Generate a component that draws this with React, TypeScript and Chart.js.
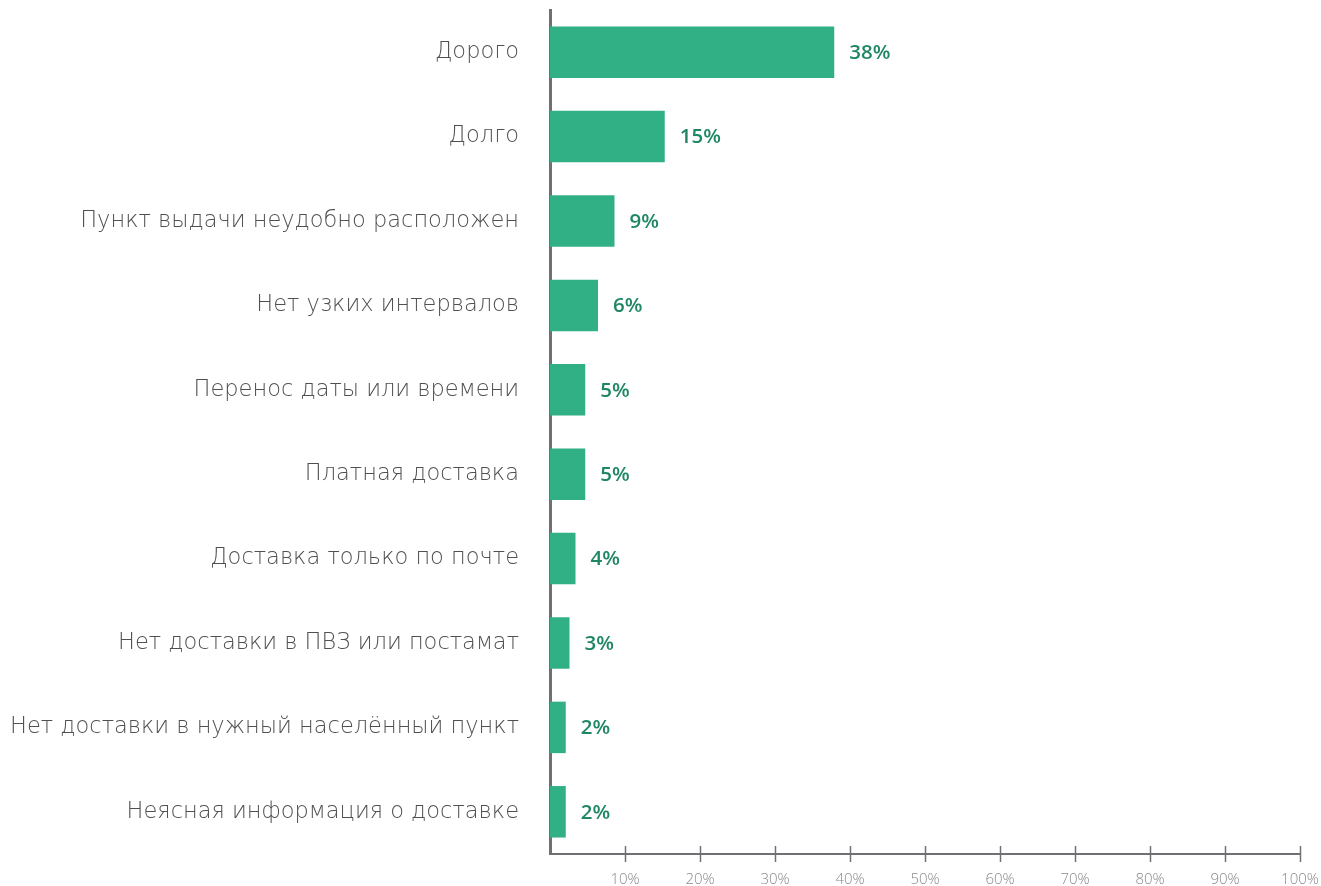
import React, { useEffect, useRef } from "react";
import { Chart, registerables } from "chart.js";

Chart.register(...registerables);

const categories = [
  "Дорого",
  "Долго",
  "Пункт выдачи неудобно расположен",
  "Нет узких интервалов",
  "Перенос даты или времени",
  "Платная доставка",
  "Доставка только по почте",
  "Нет доставки в ПВЗ или постамат",
  "Нет доставки в нужный населённый пункт",
  "Неясная информация о доставке",
];
const values = [37.9, 15.3, 8.6, 6.4, 4.7, 4.7, 3.4, 2.6, 2.1, 2.1];
const valueLabels = ["38%", "15%", "9%", "6%", "5%", "5%", "4%", "3%", "2%", "2%"];
const tickValues = [10, 20, 30, 40, 50, 60, 70, 80, 90, 100];

const BAR_COLOR = "#32b085";
const LABEL_COLOR = "#1f8763";
const AXIS_COLOR = "#707074";

const valueLabelPlugin = {
  id: "valueLabels",
  afterDatasetsDraw(chart: any) {
    const ctx = chart.ctx;
    const meta = chart.getDatasetMeta(0);
    ctx.save();
    ctx.fillStyle = LABEL_COLOR;
    ctx.font = "600 20.5px 'Open Sans'";
    ctx.textAlign = "left";
    ctx.textBaseline = "middle";
    meta.data.forEach((bar: any, i: number) => {
      ctx.fillText(valueLabels[i], bar.x + 15, bar.y + 1);
    });
    ctx.restore();
  },
};

const crossTickPlugin = {
  id: "crossTicks",
  afterDraw(chart: any) {
    const ctx = chart.ctx;
    const xs = chart.scales.x;
    const y = chart.chartArea.bottom;
    ctx.save();
    ctx.strokeStyle = AXIS_COLOR;
    ctx.lineWidth = 1.5;
    tickValues.forEach((v) => {
      const x = Math.round(xs.getPixelForValue(v)) + 0.5;
      ctx.beginPath();
      ctx.moveTo(x, y - 8);
      ctx.lineTo(x, y + 8);
      ctx.stroke();
    });
    ctx.restore();
  },
};

function zeroPad(scale: any) {
  scale.paddingTop = 0;
  scale.paddingBottom = 0;
  scale.paddingLeft = 0;
  scale.paddingRight = 0;
}

export default function App() {
  const ref = useRef<HTMLCanvasElement | null>(null);
  useEffect(() => {
    document.body.style.margin = "0";
    const chart = new Chart(ref.current as HTMLCanvasElement, {
      type: "bar",
      data: {
        labels: categories,
        datasets: [
          {
            data: values,
            backgroundColor: BAR_COLOR,
            borderWidth: 0,
            barPercentage: 0.61,
            categoryPercentage: 1,
          },
        ],
      },
      options: {
        indexAxis: "y",
        responsive: false,
        animation: false,
        layout: { padding: { top: 10, right: 21, left: 0, bottom: 0 } },
        plugins: { legend: { display: false }, tooltip: { enabled: false } },
        scales: {
          x: {
            min: 0,
            max: 100,
            afterBuildTicks(scale: any) {
              scale.ticks = tickValues.map((v) => ({ value: v }));
            },
            afterFit(scale: any) {
              scale.height = 32;
              zeroPad(scale);
            },
            grid: { display: false, drawTicks: false },
            border: { display: true, color: AXIS_COLOR, width: 2 },
            ticks: {
              padding: 17,
              color: "#8a8a8a",
              font: { family: "'Open Sans'", size: 15, weight: 300 },
              callback: (v: any) => `${v}%`,
              maxRotation: 0,
              autoSkip: false,
            },
          },
          y: {
            z: 1,
            afterFit(scale: any) {
              scale.width = 550;
              zeroPad(scale);
            },
            grid: { display: false, drawTicks: false },
            border: { display: true, color: AXIS_COLOR, width: 3 },
            ticks: {
              padding: 31,
              color: "#505050",
              font: { family: "'DejaVu Sans'", size: 22.5, weight: 200 },
              autoSkip: false,
            },
          },
        },
      },
      plugins: [valueLabelPlugin, crossTickPlugin],
    } as any);
    return () => chart.destroy();
  }, []);
  return (
    <div style={{ width: 1321, height: 886 }}>
      <canvas ref={ref} width={1321} height={886} style={{ display: "block" }} />
    </div>
  );
}
